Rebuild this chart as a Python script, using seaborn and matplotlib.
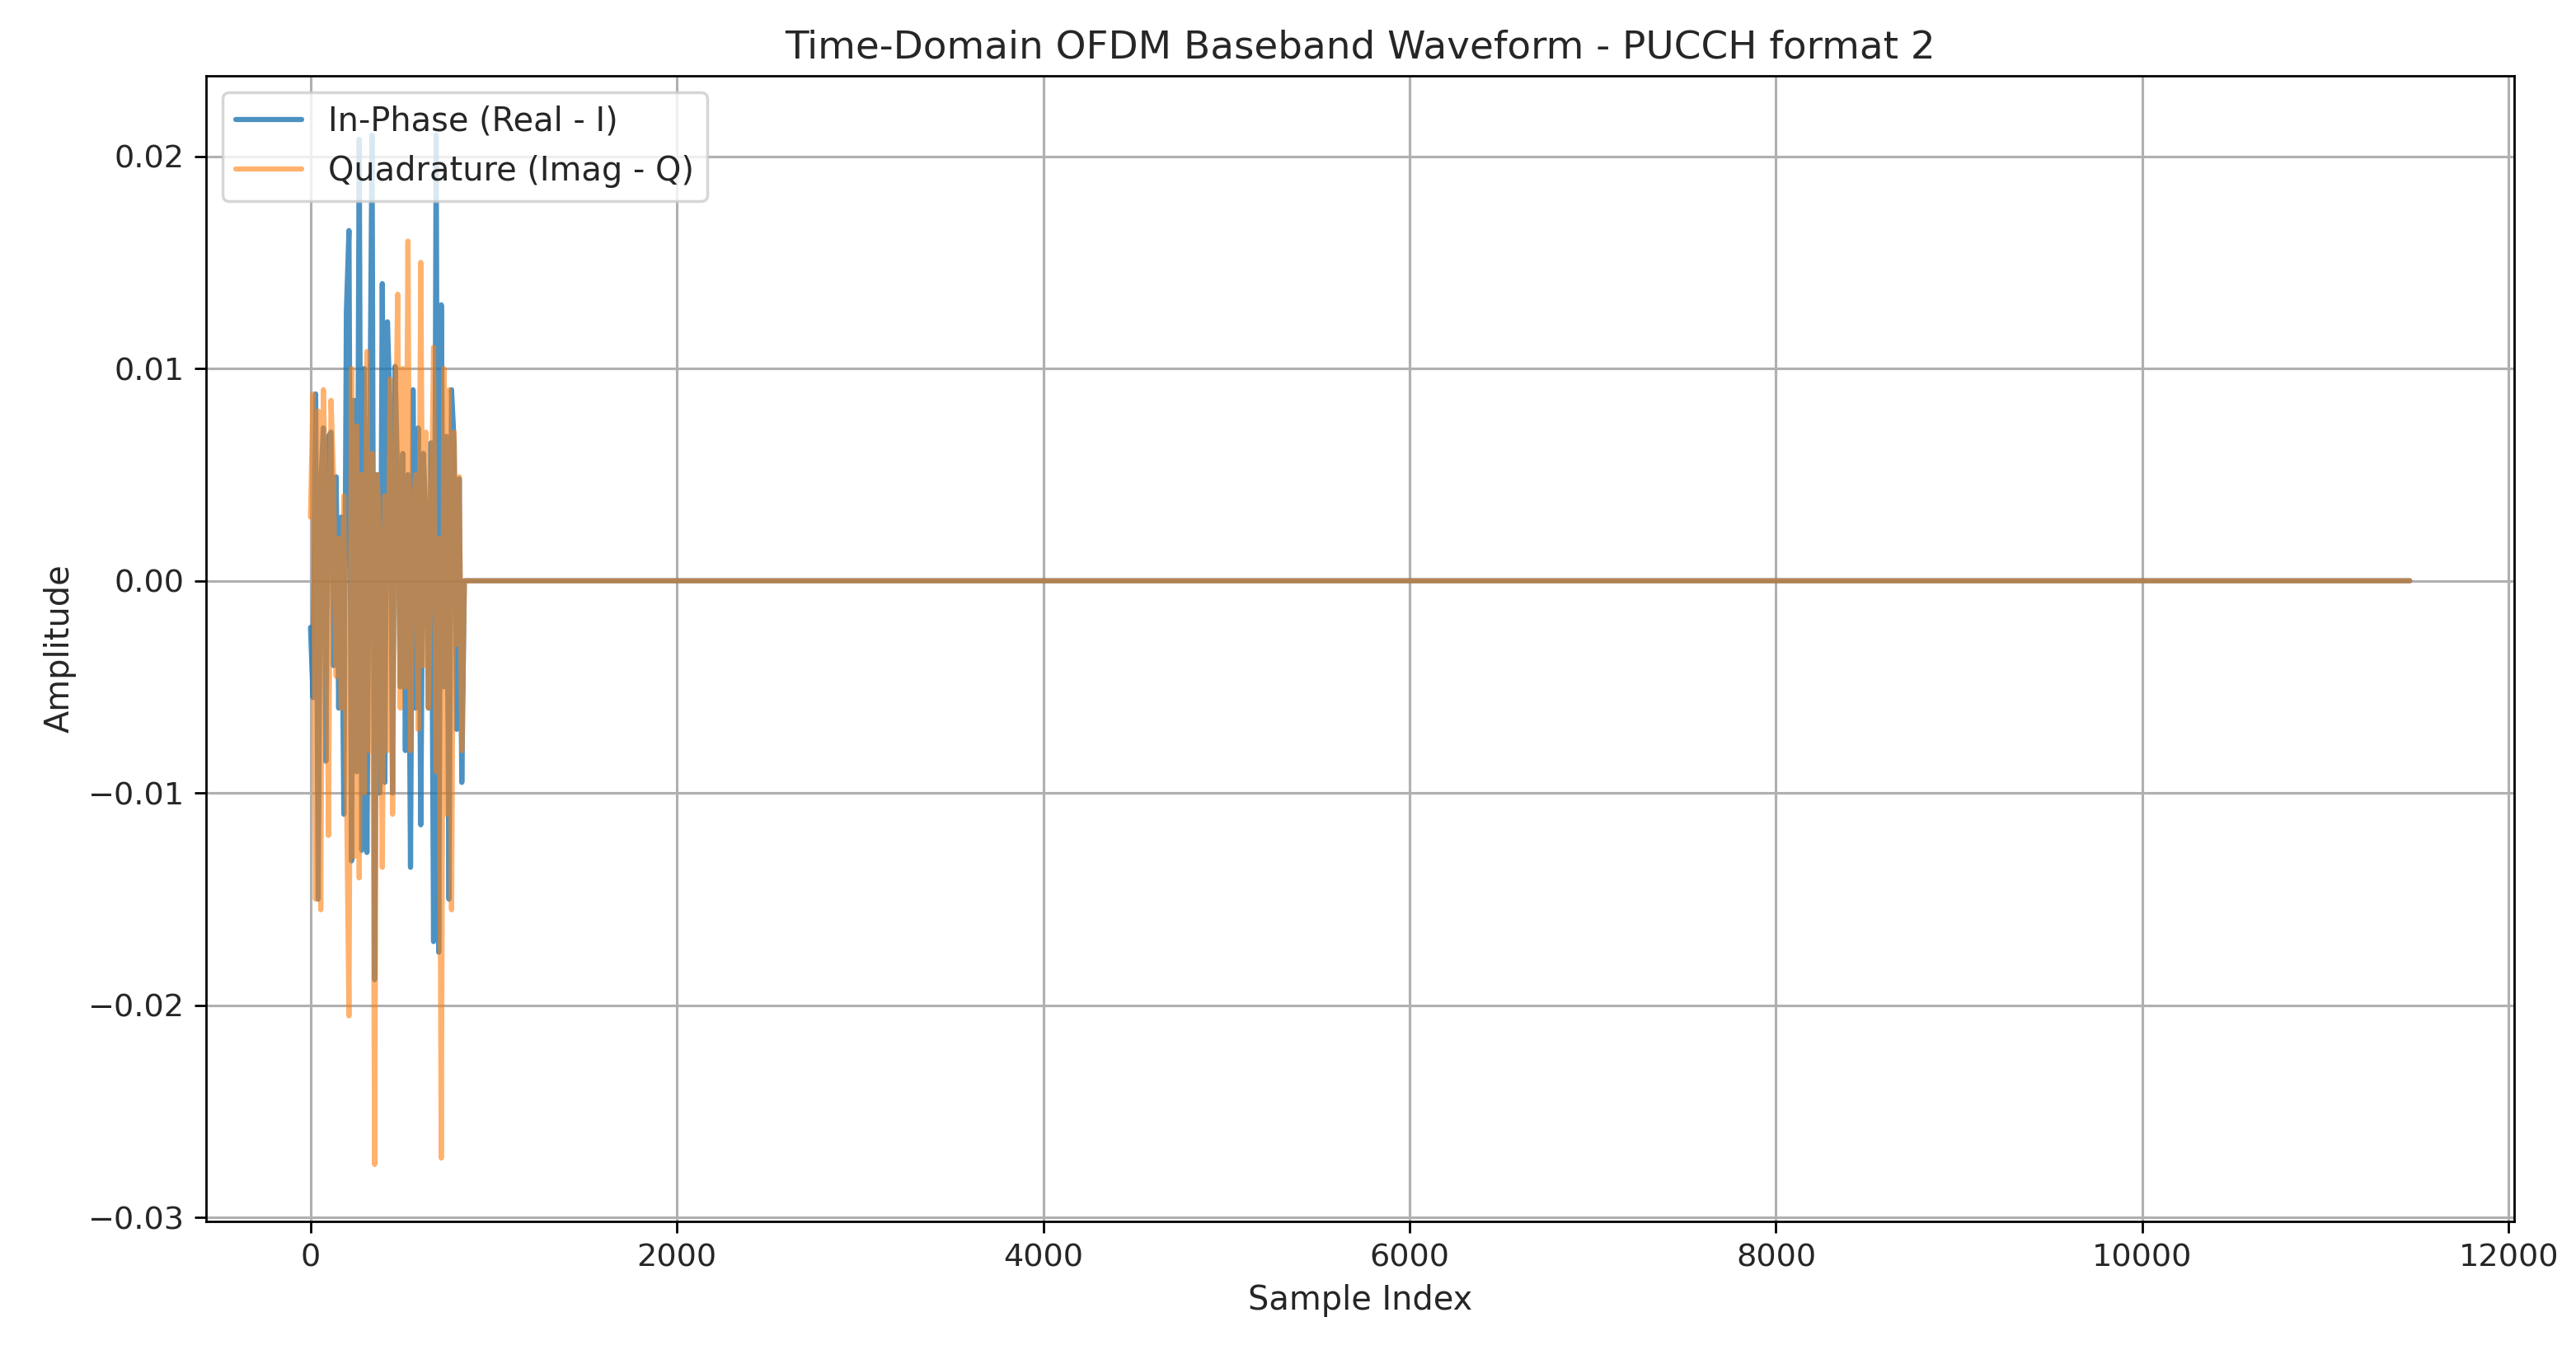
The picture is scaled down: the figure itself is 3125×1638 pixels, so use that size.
import matplotlib
matplotlib.use("Agg")
import matplotlib.pyplot as plt
import seaborn as sns
import numpy as np

# values, one point every 14 samples over the active part
burst_step = 14
i_burst = [-0.0022, -0.0055, 0.0088, -0.015, 0.0045, 0.0072, -0.0085, 0.0068, 0.0070, -0.004,
           0.0049, -0.006, 0.0030, -0.0110, 0.0127, 0.0165, -0.0132, 0.0085, -0.0090, 0.0208,
           -0.0127, 0.0100, -0.0128, 0.0045, 0.0210, -0.0188, 0.0050, -0.0100, 0.0140, -0.0095,
           0.0122, 0.0082, -0.0100, 0.0101, 0.0045, -0.0050, 0.0060, -0.0080, 0.0050, -0.0135,
           0.0090, -0.0060, 0.0072, -0.0115, 0.0060, 0.0030, -0.0060, 0.0065, -0.0170, 0.0210,
           -0.0175, 0.0130, -0.0050, 0.0068, -0.0150, 0.0090, 0.0065, -0.0070, 0.0048, -0.0095, 0.0]
q_burst = [0.0030, 0.0088, -0.0150, 0.0080, -0.0155, 0.0090, 0.0040, -0.0120, 0.0085, 0.0049,
           -0.0045, 0.0020, -0.0060, 0.0040, -0.0090, -0.0205, 0.0100, -0.0130, 0.0073, -0.0140,
           0.0050, -0.0100, 0.0108, -0.0080, 0.0060, -0.0275, 0.0050, 0.0020, -0.0135, 0.0040,
           -0.0080, 0.0095, -0.0110, 0.0050, 0.0135, -0.0060, 0.0100, -0.0050, 0.0160, -0.0080,
           0.0030, 0.0050, -0.0070, 0.0150, -0.0040, 0.0070, -0.0060, 0.0020, 0.0110, -0.0090,
           0.0020, -0.0272, 0.0100, -0.0110, 0.0090, -0.0155, 0.0070, -0.0030, 0.0049, -0.0080, 0.0]
n_total = 11460

x_burst = [k * burst_step for k in range(len(i_burst))]
x = np.array(x_burst + [n_total])
i_sig = np.array(i_burst + [0.0])
q_sig = np.array(q_burst + [0.0])

sns.set_style("white")
fig, ax = plt.subplots(figsize=(12.5, 6.552), dpi=250)
sns.lineplot(x=x, y=i_sig, ax=ax, label="In-Phase (Real - I)", alpha=0.8, color="#1f77b4", linewidth=1.8)
sns.lineplot(x=x, y=q_sig, ax=ax, label="Quadrature (Imag - Q)", alpha=0.6, color="#ff7f0e", linewidth=1.8)
ax.set_title("Time-Domain OFDM Baseband Waveform - PUCCH format 2", fontsize=13.5)
ax.set_xlabel("Sample Index", fontsize=11.5)
ax.set_ylabel("Amplitude", fontsize=11.5)
ax.set_xlim(-570, 12030)
ax.set_ylim(-0.0302, 0.0238)
ax.grid(True, color="#b0b0b0", linewidth=0.9)
ax.legend(loc="upper left", fontsize=11.5)
for s in ax.spines.values():
    s.set_color("black")
ax.tick_params(axis="both", length=4, color="black", labelsize=11, left=True, bottom=True)
fig.subplots_adjust(left=0.08, right=0.976, top=0.944, bottom=0.095)
plt.savefig("out.png")
